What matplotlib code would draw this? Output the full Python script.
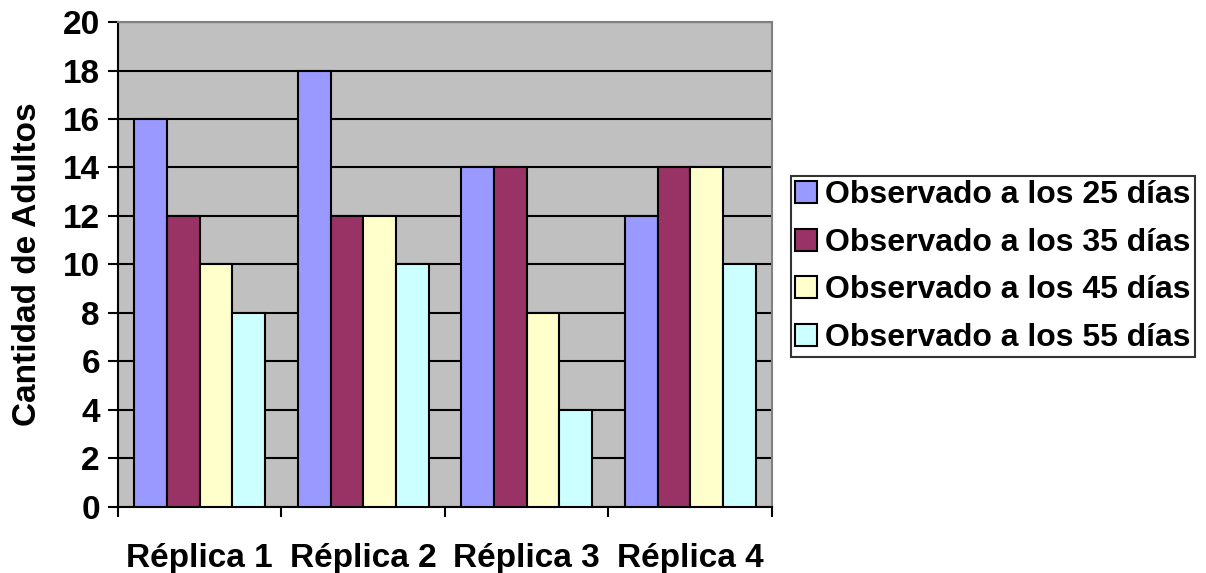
import matplotlib.pyplot as plt
import numpy as np

plt.rcParams['font.family'] = ['Liberation Sans', 'DejaVu Sans']
plt.rcParams['font.weight'] = 'bold'

replicas = ['Réplica 1', 'Réplica 2', 'Réplica 3', 'Réplica 4']
series = ['Observado a los 25 días', 'Observado a los 35 días',
          'Observado a los 45 días', 'Observado a los 55 días']
d25 = [16, 18, 14, 12]
d35 = [12, 12, 14, 14]
d45 = [10, 12, 8, 14]
d55 = [8, 10, 4, 10]
colors = ['#9999FF', '#993366', '#FFFFCC', '#CCFFFF']

fs = 24

fig = plt.figure(figsize=(12.06, 5.73), dpi=100)
ax = fig.add_axes([0.0978, 0.1152, 0.5423, 0.8464])
ax.set_facecolor('#C0C0C0')

x = np.arange(len(replicas))
w = 0.2
for i, (vals, lab, c) in enumerate(zip([d25, d35, d45, d55], series, colors)):
    ax.bar(x + (i - 1.5) * w, vals, w, color=c, edgecolor='black', linewidth=1.5,
           label=lab, zorder=3)

ax.set_xlim(-0.5, 3.5)
ax.set_ylim(0, 20)
ax.set_yticks(range(0, 21, 2))
ax.set_yticklabels([str(v) for v in range(0, 21, 2)], fontsize=fs, fontweight='bold')
ax.yaxis.grid(True, color='black', linewidth=1.5, zorder=0)
ax.set_axisbelow(True)
ax.tick_params(axis='y', length=7, width=1.5, pad=6)
ax.set_xticks(x)
ax.set_xticklabels(replicas, fontsize=fs, fontweight='bold')
ax.tick_params(axis='x', which='major', length=0, pad=26)
ax.set_xticks(np.arange(-0.5, 4, 1), minor=True)
ax.tick_params(axis='x', which='minor', length=7, width=1.5)
ax.set_ylabel('Cantidad de Adultos', fontsize=fs, fontweight='bold', labelpad=14)

for s in ['left', 'bottom']:
    ax.spines[s].set_linewidth(1.5)
    ax.spines[s].set_color('black')
for s in ['top', 'right']:
    ax.spines[s].set_linewidth(1.5)
    ax.spines[s].set_color('#808080')

leg = fig.legend(loc='upper left', bbox_to_anchor=(0.656, 0.692),
                 prop={'size': 23, 'weight': 'bold'},
                 frameon=True, fancybox=False, edgecolor='black',
                 handlelength=0.7, handleheight=0.7, handletextpad=0.25,
                 labelspacing=0.55, borderpad=0.12, borderaxespad=0)
leg.get_frame().set_linewidth(1.5)
for h in leg.legend_handles:
    h.set_linewidth(1.5)

fig.savefig('out.png', dpi=100)
